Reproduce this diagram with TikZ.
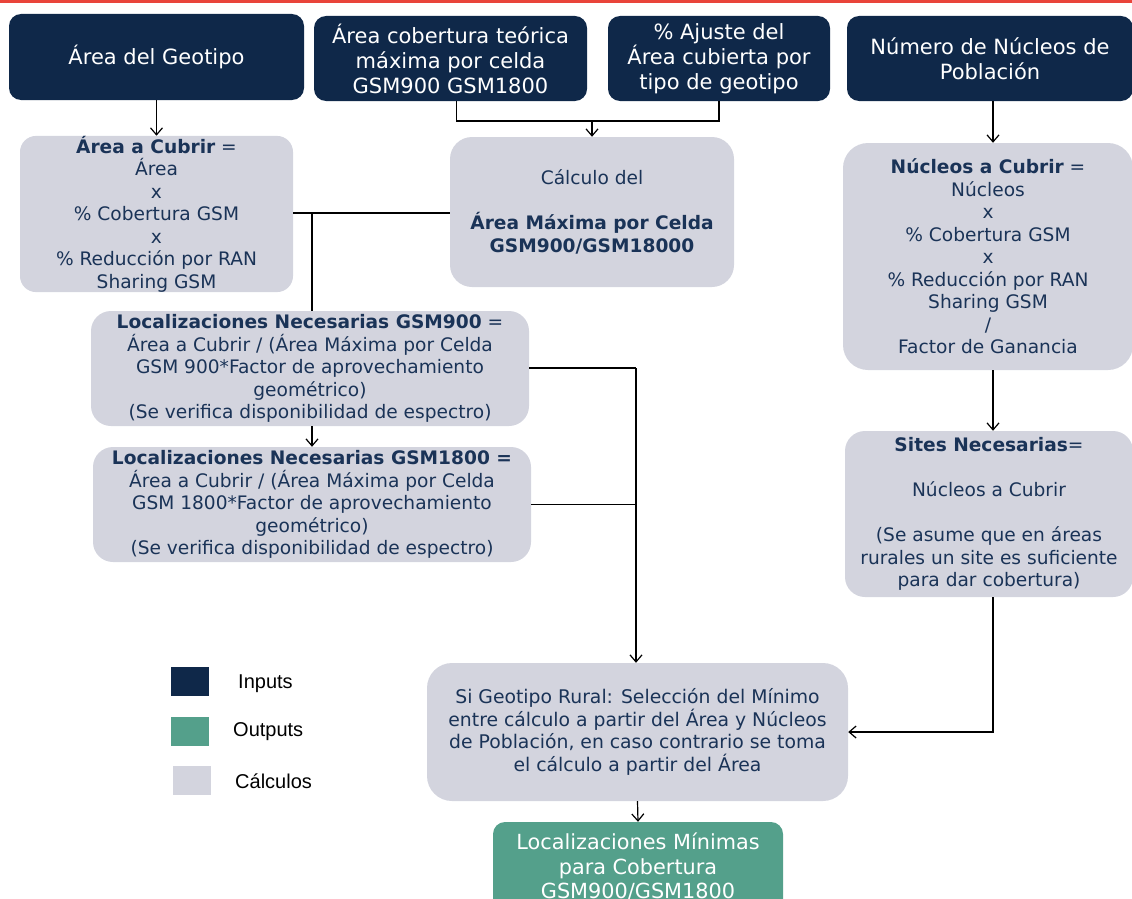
\documentclass[tikz,border=0pt]{standalone}
\usepackage{fontspec}
\setmainfont{DejaVu Sans}
\newfontfamily\legendfont{Liberation Sans}
\usetikzlibrary{arrows.meta}
\definecolor{inputnavy}{HTML}{0F2849}
\definecolor{calcgrey}{HTML}{D3D4DE}
\definecolor{outteal}{HTML}{54A08B}
\definecolor{calctext}{HTML}{1A3357}
\definecolor{topred}{HTML}{E9443A}
\begin{document}
\begin{tikzpicture}[x=1pt,y=-1pt,
  inbox/.style={fill=inputnavy, text=white, rounded corners=12pt, align=center,
    inner sep=0pt, font=\fontsize{21}{25}\selectfont},
  calcbox/.style={fill=calcgrey, text=calctext, rounded corners=20pt, align=center,
    inner sep=0pt, font=\fontsize{18.6}{22.5}\selectfont},
  outbox/.style={fill=outteal, text=white, rounded corners=12pt, align=center,
    inner sep=0pt, font=\fontsize{20.8}{24.5}\selectfont},
  link/.style={draw=black, line width=1.2pt},
  arr/.style={link, -{Straight Barb[length=7pt,width=12pt]}},
  swatch/.style={inner sep=0pt, minimum width=38pt, minimum height=29pt},
  legendtext/.style={anchor=west, inner sep=0pt, text=black,
    font=\legendfont\fontsize{20}{24}\selectfont}
]
\useasboundingbox (0,0) rectangle (1132,899);
\clip (0,0) rectangle (1132,899);

% top rule
\fill[topred] (0,0) rectangle (1132,3);

% inputs
\node[inbox, minimum width=295pt, minimum height=86pt] (geo) at (156.5,57) {Área del Geotipo};
\node[inbox, minimum width=273pt, minimum height=85pt] (cob) at (450.5,58.5)
  {Área cobertura teórica\\máxima por celda\\GSM900 GSM1800};
\node[inbox, minimum width=222pt, minimum height=85pt] (aju) at (719,58.5)
  {\% Ajuste del\\Área cubierta por\\tipo de geotipo};
\node[inbox, minimum width=286pt, minimum height=85pt] (num) at (990,58.5)
  {Número de Núcleos de\\Población};

% calculations
\node[calcbox, rounded corners=16pt, minimum width=273pt, minimum height=156pt] (area) at (156.5,214)
  {\textbf{Área a Cubrir} =\\Área\\x\\\% Cobertura GSM\\x\\\% Reducción por RAN\\Sharing GSM};
\node[calcbox, rounded corners=22pt, minimum width=284pt, minimum height=150pt] (calc) at (592,212)
  {Cálculo del\\[\baselineskip]\textbf{Área Máxima por Celda}\\\textbf{GSM900/GSM18000}};
\node[calcbox, minimum width=438pt, minimum height=115pt] (loc9) at (310,368.5)
  {\textbf{Localizaciones Necesarias GSM900} =\\Área a Cubrir / (Área Máxima por Celda\\GSM 900*Factor de aprovechamiento\\geométrico)\\(Se verifica disponibilidad de espectro)};
\node[calcbox, minimum width=438pt, minimum height=115pt] (loc18) at (312,504.5)
  {\textbf{Localizaciones Necesarias GSM1800 =}\\Área a Cubrir / (Área Máxima por Celda\\GSM 1800*Factor de aprovechamiento\\geométrico)\\(Se verifica disponibilidad de espectro)};
\node[calcbox, rounded corners=25pt, minimum width=290pt, minimum height=227pt] (nuc) at (988,256.5)
  {\textbf{Núcleos a Cubrir} =\\Núcleos\\x\\\% Cobertura GSM\\x\\\% Reducción por RAN\\Sharing GSM\\/\\Factor de Ganancia};
\node[calcbox, minimum width=288pt, minimum height=166pt] (sites) at (989,514)
  {\textbf{Sites Necesarias}=\\[\baselineskip]Núcleos a Cubrir\\[\baselineskip](Se asume que en áreas\\rurales un site es suficiente\\para dar cobertura)};
\node[calcbox, rounded corners=25pt, minimum width=421pt, minimum height=138pt,
  font=\fontsize{18.8}{22.7}\selectfont] (si) at (637.5,732)
  {Si Geotipo Rural: Selección del Mínimo\\entre cálculo a partir del Área y Núcleos\\de Población, en caso contrario se toma\\el cálculo a partir del Área};

% output
\node[outbox, minimum width=290pt, minimum height=90pt] (out) at (638,867)
  {Localizaciones Mínimas\\para Cobertura\\GSM900/GSM1800};

% connectors
\coordinate (j1) at (592,121);
\draw[link] ([xshift=6pt]cob.south) |- (j1) -| (aju.south);
\draw[arr] (j1) -- (calc.north);
\draw[arr] (geo.south) -- (area.north);

\coordinate (j2) at (312,213);
\draw[link] (area.east |- j2) -- (calc.west |- j2);
\draw[link] (j2) -- (j2 |- loc9.north);
\draw[arr] (j2 |- loc9.south) -- (j2 |- loc18.north);

\coordinate (j3) at (636,368);
\draw[link] (loc9.east |- j3) -- (j3);
\draw[arr] (j3) -- (j3 |- si.north);
\draw[link] (loc18.east) -- (loc18.east -| j3);

\coordinate (colR) at (993,0);
\draw[arr] (colR |- num.south) -- (colR |- nuc.north);
\draw[arr] (colR |- nuc.south) -- (colR |- sites.north);
\draw[arr] (colR |- sites.south) |- (si.east);

\draw[arr] (si.south) -- (out.north);

% legend
\node[swatch, fill=inputnavy] (swin) at (190,681.5) {};
\node[swatch, fill=outteal] (swout) at (190,731) {};
\node[swatch, fill=calcgrey] (swcalc) at (191.5,780.5) {};
\node[legendtext] (lin) at (238,684) {Inputs};
\node[legendtext] (lout) at (233,732) {Outputs};
\node[legendtext] (lcalc) at (235,781) {Cálculos};
\end{tikzpicture}
\end{document}
